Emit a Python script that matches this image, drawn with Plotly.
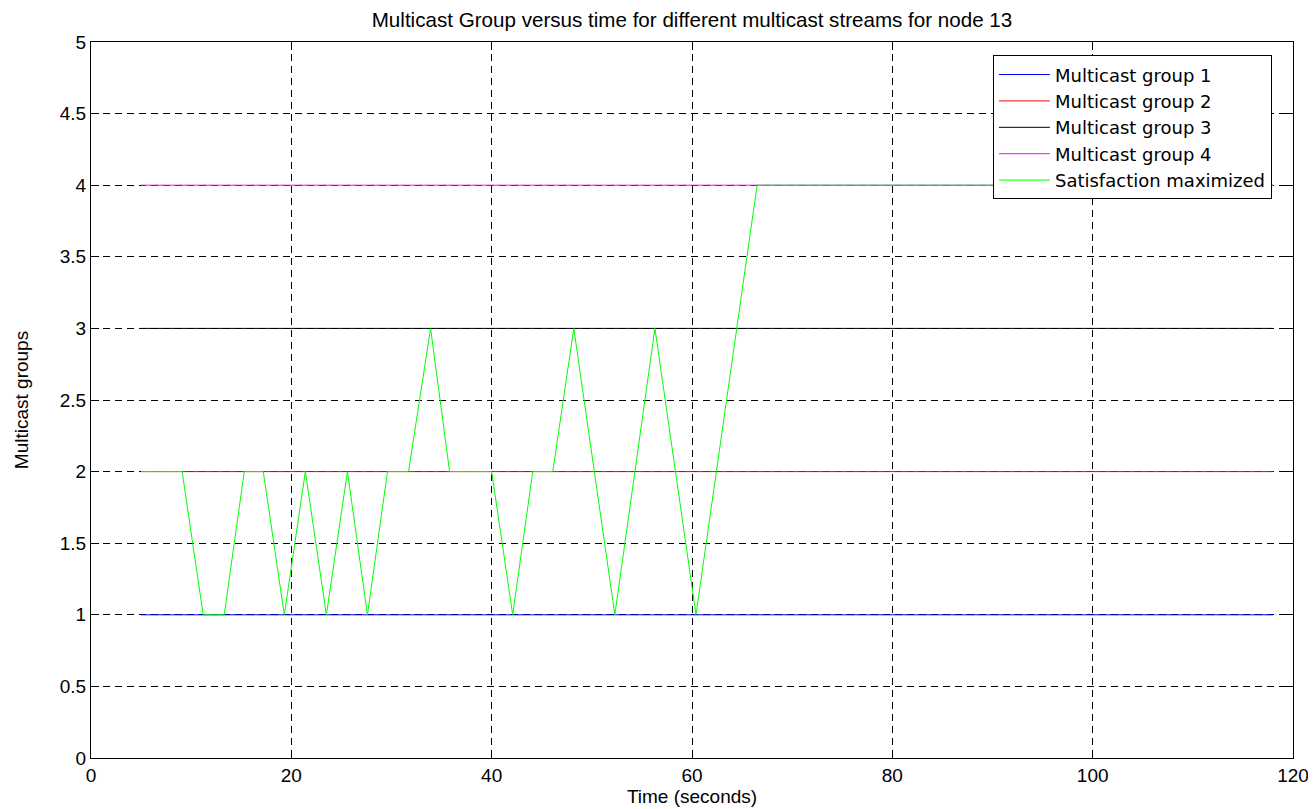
import plotly.graph_objects as go

# Data
group_time = [5.0, 118.0]
group1 = [1, 1]
group2 = [2, 2]
group3 = [3, 3]
group4 = [4, 4]

sat_time = [5.0, 9.1, 11.2, 13.3, 15.3, 17.2, 19.3, 21.4, 23.5, 25.6, 27.6, 29.6,
            31.7, 33.9, 35.8, 40.0, 42.1, 44.1, 46.1, 48.2, 52.3, 56.3, 60.4, 66.5, 118.0]
sat_vals = [2, 2, 1, 1, 2, 2, 1, 2, 1, 2, 1, 2,
            2, 3, 2, 2, 1, 2, 2, 3, 1, 3, 1, 4, 4]

x_ticks = [0, 20, 40, 60, 80, 100, 120]
y_ticks = [0, 0.5, 1, 1.5, 2, 2.5, 3, 3.5, 4, 4.5, 5]
y_tick_labels = ["0", "0.5", "1", "1.5", "2", "2.5", "3", "3.5", "4", "4.5", "5"]

FONT = "Liberation Sans, Arial, sans-serif"
LEGEND_FONT = "DejaVu Sans, Liberation Sans, sans-serif"

fig = go.Figure()
series = [
    ("Multicast group 1", group1, "#0000ff"),
    ("Multicast group 2", group2, "#ff0000"),
    ("Multicast group 3", group3, "#000000"),
    ("Multicast group 4", group4, "#ff00ff"),
]
for name, vals, col in series:
    fig.add_trace(go.Scatter(x=group_time, y=vals, mode="lines", name=name,
                             line=dict(color=col, width=1)))
fig.add_trace(go.Scatter(x=sat_time, y=sat_vals, mode="lines", name="Satisfaction maximized",
                         line=dict(color="#00ff00", width=1)))

# page body has an 8px default margin, so the figure is sized/placed to compensate
fig.update_layout(
    width=1308, height=801,
    margin=dict(l=83, r=23, t=34, b=51, autoexpand=False),
    paper_bgcolor="white", plot_bgcolor="white",
    font=dict(family=FONT, size=19, color="black"),
    title=dict(text="Multicast Group versus time for different multicast streams for node 13",
               x=0.5, xref="paper", xanchor="center", y=0.985, yref="container", yanchor="middle",
               font=dict(size=20.6, family=FONT, color="black")),
    legend=dict(x=0.7504, y=0.9814, xanchor="left", yanchor="top",
                bordercolor="black", borderwidth=1, bgcolor="white",
                itemwidth=51,
                font=dict(size=18, family=LEGEND_FONT), tracegroupgap=0),
    showlegend=True,
)
fig.update_xaxes(range=[0, 120], tickvals=x_ticks, ticktext=[str(v) for v in x_ticks],
                 showgrid=True, gridcolor="black", griddash="7px,5px", gridwidth=1,
                 showline=True, linecolor="black", linewidth=1, mirror="ticks",
                 ticks="inside", ticklen=8, tickcolor="black", zeroline=False,
                 automargin=False,
                 title=dict(text="Time (seconds)", standoff=1, font=dict(size=19)),
                 tickfont=dict(size=19))
fig.update_yaxes(range=[0, 5], tickvals=y_ticks, ticktext=y_tick_labels,
                 showgrid=True, gridcolor="black", griddash="7px,5px", gridwidth=1,
                 showline=True, linecolor="black", linewidth=1, mirror="ticks",
                 ticks="inside", ticklen=8, tickcolor="black", zeroline=False,
                 automargin=False,
                 title=dict(text="Multicast groups", standoff=26, font=dict(size=19)),
                 tickfont=dict(size=19))

fig.write_html("out.html")
